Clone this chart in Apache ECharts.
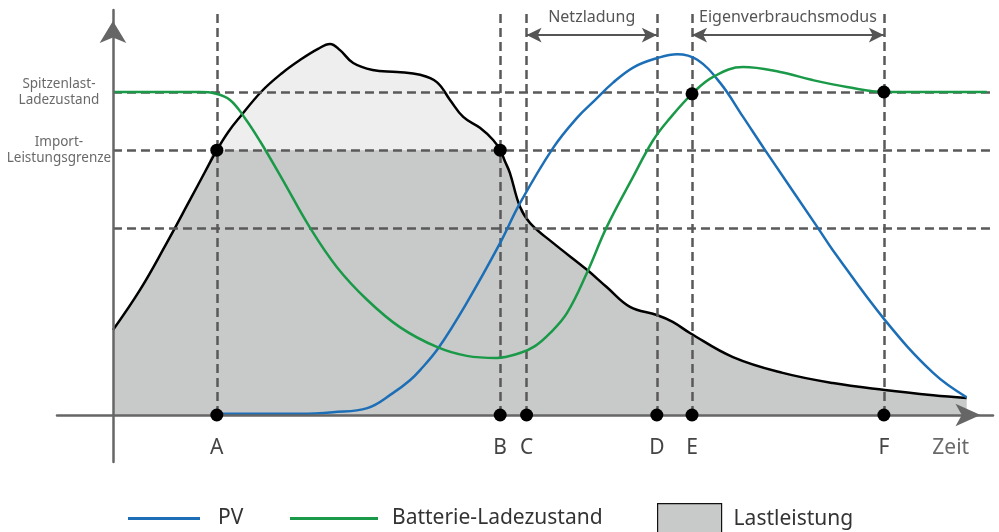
<!DOCTYPE html>
<html>
<head>
<meta charset="utf-8">
<script src="https://cdn.jsdelivr.net/npm/echarts@6/dist/echarts.min.js"></script>
<style>html,body{margin:0;padding:0;background:#fff}#c{width:999px;height:532px}</style>
</head>
<body>
<div id="c"></div>
<script>
// ---- data (time on x, relative level on y) ----
const eventNames = ['A', 'B', 'C', 'D', 'E', 'F'];
const eventX = [11.8, 44.0, 47.0, 61.8, 65.8, 87.6];
const levelY = [79.75, 65.4, 46.2];
const levelLabels = ['Spitzenlast-\nLadezustand', 'Import-\nLeistungsgrenze'];
const guideTop = 99.0;
const spanY = 93.8;
const spanNames = ['Netzladung', 'Eigenverbrauchsmodus'];
const spanFrom = [2, 4];
const spanTo = [3, 5];
const timeLabel = 'Zeit';
const timeLabelX = 95.2;

const loadX = [0, 3.07, 5.91, 8.75, 10.45, 11.8, 13.1, 14.43, 16.93, 19.2, 21.25, 23.3, 24.66, 25.8, 27.3, 29.5, 32.3, 34.9, 36.8, 38.3, 39.8, 41.7, 43.2, 44.0, 44.55, 45.1, 46.25, 47.4, 50.0, 53.9, 56.1, 58.75, 61.8, 63.6, 65.6, 70.45, 76.1, 81.8, 87.7, 93.2, 97.0];
const loadY = [21.0, 30.9, 41.7, 53.1, 60.0, 65.4, 69.9, 73.6, 80.0, 84.4, 87.65, 90.4, 91.6, 90.1, 86.9, 85.2, 84.7, 84.0, 82.2, 77.8, 73.6, 70.9, 67.9, 65.4, 62.6, 59.8, 51.4, 47.4, 42.5, 35.8, 31.6, 26.7, 24.7, 23.0, 20.2, 14.3, 10.4, 7.9, 6.2, 4.9, 4.2];

const pvX = [11.8, 21.25, 25.0, 28.9, 31.8, 33.75, 34.9, 37.0, 40.2, 44.0, 46.25, 50.0, 52.7, 54.8, 56.8, 59.2, 61.8, 64.1, 66.4, 69.0, 71.6, 74.1, 80.1, 81.8, 87.7, 93.2, 97.0];
const pvY = [0.3, 0.3, 0.7, 1.7, 5.4, 8.6, 11.1, 16.6, 27.7, 42.5, 52.3, 65.9, 73.3, 77.8, 82.0, 85.9, 88.1, 89.1, 87.7, 82.0, 73.6, 65.4, 46.2, 40.7, 23.5, 10.4, 4.4];

const socX = [0, 9.89, 11.6, 13.3, 15.0, 16.7, 19.3, 22.4, 25.45, 28.9, 32.6, 36.8, 40.2, 43.6, 46.25, 47.95, 49.66, 51.6, 53.9, 56.1, 59.1, 61.4, 63.3, 65.8, 68.2, 71.6, 75.8, 79.5, 83.4, 87.7, 99.3];
const socY = [79.75, 79.75, 79.4, 77.8, 73.3, 67.65, 58.0, 46.2, 36.5, 28.4, 21.7, 16.8, 14.6, 14.1, 15.3, 17.0, 20.2, 25.2, 35.3, 46.4, 58.8, 67.9, 73.3, 79.3, 83.5, 85.9, 84.7, 82.7, 81.0, 79.75, 79.75];

// dots on curves: [event index, y]
const curveDotEvent = [0, 1, 4, 5];
const curveDotY = [65.4, 65.4, 79.3, 79.75];

// ---- build ----
const zip = (xs, ys) => xs.map((x, i) => [x, ys[i]]);
const loadData = zip(loadX, loadY);
const loadClipped = zip(loadX, loadY.map(v => Math.min(v, levelY[1])));
const FONT = 'Noto Sans';
const SMOOTH = 0.4;
const DASH = { type: [9, 5], color: '#595959', width: 2.5 };

const guideLines = [];
eventX.forEach(x => guideLines.push([{ coord: [x, 0] }, { coord: [x, guideTop] }]));
levelY.forEach(y => guideLines.push([{ coord: [0, y] }, { coord: [99.7, y] }]));

const spanLines = spanNames.map((n, i) => [
  { coord: [eventX[spanFrom[i]], spanY], name: n },
  { coord: [eventX[spanTo[i]], spanY] }
]);

const chart = echarts.init(document.getElementById('c'), null, { renderer: 'canvas' });
chart.setOption({
  animation: false,
  textStyle: { fontFamily: FONT },
  grid: { left: 57, right: 6, top: 10, bottom: 70 },
  xAxis: {
    type: 'value', min: -6.36, max: 100, z: 10,
    axisLine: { onZero: true, symbol: ['none', 'arrow'], symbolSize: [17, 25], symbolOffset: [0, -12.5], lineStyle: { color: '#666', width: 2.5 } },
    axisTick: { show: false }, axisLabel: { show: false }, splitLine: { show: false }
  },
  yAxis: {
    type: 'value', min: -11.6, max: 100, z: 10,
    axisLine: { onZero: true, symbol: ['none', 'arrow'], symbolSize: [20, 22], symbolOffset: [0, -11], lineStyle: { color: '#666', width: 2.5 } },
    axisTick: { show: false }, axisLabel: { show: false }, splitLine: { show: false }
  },
  legend: [
    { data: ['PV'], left: 128, top: 508, padding: 0, icon: 'rect', itemWidth: 72, itemHeight: 3, selectedMode: false,
      textStyle: { fontFamily: FONT, fontSize: 21, color: '#333', padding: [0, 0, 0, 13] } },
    { data: ['Batterie-Ladezustand'], left: 290, top: 508, padding: 0, icon: 'rect', itemWidth: 88, itemHeight: 3, selectedMode: false,
      textStyle: { fontFamily: FONT, fontSize: 21, color: '#333', padding: [0, 0, 0, 9] } },
    { data: [{ name: 'Lastleistung', itemStyle: { color: '#c8c9c9', borderColor: '#111', borderWidth: 1.2 } }], left: 657, top: 503, padding: 0, icon: 'rect', itemWidth: 64, itemHeight: 30, selectedMode: false,
      textStyle: { fontFamily: FONT, fontSize: 21, color: '#333', padding: [0, 0, 0, 7] } }
  ],
  series: [
    { name: 'loadTop', type: 'line', data: loadData, smooth: SMOOTH, showSymbol: false, z: 1,
      lineStyle: { width: 0 }, areaStyle: { color: '#eeeeee', opacity: 1 }, itemStyle: { color: '#eeeeee' } },
    { name: 'Lastleistung', type: 'line', data: loadClipped, smooth: SMOOTH, showSymbol: false, z: 1,
      lineStyle: { width: 0 }, areaStyle: { color: '#c8c9c9', opacity: 1 }, itemStyle: { color: '#c8c9c9' } },
    { name: 'guides', type: 'line', data: [], z: 3,
      markLine: { silent: true, symbol: ['none', 'none'], lineStyle: DASH, label: { show: false }, data: guideLines } },
    { name: 'spans', type: 'line', data: [], z: 3,
      markLine: { silent: true, symbol: ['arrow', 'arrow'], symbolSize: [11, 15],
        lineStyle: { type: 'solid', color: '#555', width: 2 },
        label: { show: true, position: 'middle', distance: 10, formatter: '{b}', fontFamily: FONT, fontSize: 16, color: '#555' },
        data: spanLines } },
    { name: 'load', type: 'line', data: loadData, smooth: SMOOTH, showSymbol: false, z: 4,
      lineStyle: { color: '#000', width: 2.5 }, itemStyle: { color: '#000' } },
    { name: 'PV', type: 'line', data: zip(pvX, pvY), smooth: SMOOTH, showSymbol: false, z: 5,
      color: '#1c6fb6', lineStyle: { color: '#1c6fb6', width: 2.5 }, itemStyle: { color: '#1c6fb6' } },
    { name: 'Batterie-Ladezustand', type: 'line', data: zip(socX, socY), smooth: SMOOTH, showSymbol: false, z: 5,
      color: '#1a9a48', lineStyle: { color: '#1a9a48', width: 2.5 }, itemStyle: { color: '#1a9a48' } },
    { name: 'curveDots', type: 'scatter', z: 20, symbolSize: 13, itemStyle: { color: '#000', opacity: 1 },
      data: curveDotEvent.map((e, i) => [eventX[e], curveDotY[i]]) },
    { name: 'axisDots', type: 'scatter', z: 20, symbolSize: 13, itemStyle: { color: '#000', opacity: 1 },
      label: { show: true, position: 'bottom', distance: 16, formatter: '{b}', fontFamily: FONT, fontSize: 21, color: '#444' },
      data: eventX.map((x, i) => ({ name: eventNames[i], value: [x, 0] })) },
    { name: 'timeLabel', type: 'scatter', z: 20, symbolSize: 1, itemStyle: { color: 'rgba(0,0,0,0)' },
      label: { show: true, position: 'bottom', distance: 22, formatter: '{b}', fontFamily: FONT, fontSize: 21, color: '#444' },
      data: [{ name: timeLabel, value: [timeLabelX, 0] }] },
    { name: 'levelLabels', type: 'scatter', z: 20, symbolSize: 1, itemStyle: { color: 'rgba(0,0,0,0)' },
      label: { show: true, position: 'inside', align: 'center', verticalAlign: 'middle', formatter: '{b}', fontFamily: FONT, fontSize: 13.5, lineHeight: 16, color: '#444' },
      data: levelLabels.map((t, i) => ({ name: t, value: [-6.14, levelY[i]] })) }
  ]
});
</script>
</body>
</html>
